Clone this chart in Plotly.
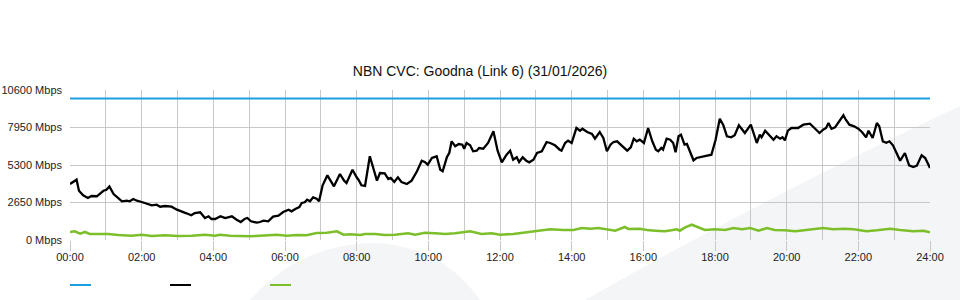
import plotly.graph_objects as go

# ---------------- data (minutes since 00:00, Mbps) ----------------
capacity_t = [0, 1440]
capacity_v = [10000, 10000]

inbound_t = [0, 11, 15, 22, 30, 36, 45, 50, 56, 61, 66, 73, 81, 87, 95, 100, 106, 112, 120, 129,
             137, 145, 151, 159, 170, 179, 187, 195, 203, 209, 218, 226, 232, 237, 243, 252, 260, 271, 279, 286,
             293, 297, 303, 313, 318, 324, 332, 340, 349, 357, 366, 371, 378, 384, 388, 393, 397, 402, 407, 413,
             417, 423, 431, 437, 442, 452, 459, 463, 473, 480, 483, 488, 494, 502, 508, 514, 519, 527, 533, 537,
             543, 549, 555, 564, 572, 581, 589, 594, 599, 606, 614, 620, 624, 631, 635, 639, 645, 651, 657, 660,
             664, 670, 675, 681, 685, 692, 700, 709, 716, 723, 731, 737, 742, 748, 752, 758, 764, 769, 776, 782,
             790, 798, 804, 812, 820, 823, 829, 834, 840, 848, 854, 858, 866, 874, 879, 887, 893, 899, 905, 910,
             916, 921, 928, 933, 939, 944, 949, 954, 961, 968, 975, 981, 985, 990, 993, 999, 1005, 1010, 1014, 1019,
             1023, 1029, 1033, 1038, 1044, 1049, 1058, 1066, 1074, 1081, 1088, 1094, 1100, 1107, 1113, 1120, 1126, 1130, 1140, 1146,
             1150, 1155, 1158, 1164, 1170, 1178, 1183, 1189, 1193, 1197, 1202, 1208, 1219, 1228, 1239, 1247, 1255, 1261, 1266, 1270,
             1275, 1281, 1288, 1295, 1299, 1305, 1313, 1320, 1326, 1333, 1337, 1344, 1351, 1355, 1361, 1367, 1372, 1378, 1384, 1390,
             1398, 1405, 1412, 1418, 1426, 1432, 1440]
inbound_v = [3960, 4260, 3480, 3160, 2970, 3110, 3090, 3250, 3480, 3550, 3790, 3250, 2920, 2735, 2777, 2735, 2897, 2777, 2685, 2544,
             2452, 2495, 2353, 2403, 2353, 2141, 2028, 1887, 1745, 1908, 1957, 1555, 1675, 1484, 1484, 1675, 1555, 1675, 1435, 1272,
             1505, 1555, 1321, 1223, 1272, 1364, 1321, 1647, 1717, 1979, 2141, 2028, 2212, 2332, 2615, 2664, 2848, 2735, 3017, 2920,
             2735, 3865, 4572, 4099, 3795, 4664, 4191, 4028, 4968, 4431, 4261, 3865, 3816, 5915, 4968, 4191, 4735, 4713, 4311, 4381,
             4099, 4431, 4099, 3957, 4191, 4855, 5604, 5512, 5321, 5795, 5915, 4968, 4855, 5844, 6148, 6975, 6622, 6784, 6735, 6452,
             6855, 6692, 6268, 6311, 6501, 6452, 6855, 7682, 6311, 5491, 6028, 6311, 5675, 5844, 5512, 5844, 5604, 5491, 5675, 6148,
             6268, 6925, 6855, 6692, 6381, 6311, 6855, 7017, 6855, 7915, 7724, 7865, 7632, 7491, 7159, 7632, 7208, 6268, 6735, 6925,
             6975, 6784, 6452, 6311, 6551, 7159, 6975, 7088, 6855, 7915, 6975, 6381, 6268, 6501, 6381, 7159, 7088, 6855, 6197, 7328,
             7441, 6735, 6784, 6268, 5632, 5795, 5865, 5915, 6028, 7088, 8572, 8106, 7328, 7258, 7399, 8106, 7795, 7561, 8148, 7441,
             6855, 7441, 7258, 7724, 7441, 7088, 7328, 7159, 7258, 7045, 7724, 7915, 7915, 8148, 8219, 7865, 7561, 7795, 7915, 8268,
             7865, 7964, 8388, 8812, 8501, 8148, 8035, 7865, 7632, 7258, 7724, 7208, 8268, 8035, 6975, 6876, 6975, 6692, 6148, 5604,
             6148, 5279, 5159, 5251, 5985, 5795, 5088]

outbound_t = [0, 8, 17, 25, 33, 47, 64, 81, 103, 120, 137, 159, 181, 204, 226, 243,
              251, 268, 285, 301, 318, 335, 346, 363, 380, 396, 413, 430, 447, 458, 469, 486,
              494, 511, 527, 544, 566, 578, 594, 611, 628, 645, 670, 689, 706, 720,
              742, 765, 787, 804, 826, 843, 857, 871, 885, 899, 913, 929, 935, 954, 966,
              980, 996, 1007, 1016, 1021, 1030, 1041, 1052, 1063, 1080, 1097, 1111, 1125, 1139, 1153, 1167, 1180, 1197, 1214,
              1222, 1239, 1261, 1278, 1295, 1312, 1334, 1351, 1373, 1390, 1412, 1429, 1440]
outbound_v = [565, 615, 445, 565, 424, 424, 424, 353, 304, 375, 283, 332, 283, 304, 375, 304,
              375, 304, 261, 261, 304, 332, 375, 304, 353, 332, 495, 516, 615, 375, 403, 353,
              424, 424, 353, 375, 473, 375, 516, 473, 424, 473, 615, 424, 473, 375,
              424, 544, 657, 756, 707, 707, 848, 799, 848, 756, 657, 919, 777, 799, 707,
              657, 615, 685, 756, 657, 897, 1081, 897, 707, 756, 707, 848, 756, 848, 657, 848, 707, 685, 615,
              657, 728, 848, 756, 799, 756, 615, 685, 799, 707, 615, 657, 544]

y_tickvals = [0, 2650, 5300, 7950, 10600]
y_ticktext = ["0 Mbps", "2650 Mbps", "5300 Mbps", "7950 Mbps", "10600 Mbps"]
x_tickvals = list(range(0, 1441, 120))
x_ticktext = ["00:00", "02:00", "04:00", "06:00", "08:00", "10:00", "12:00",
              "14:00", "16:00", "18:00", "20:00", "22:00", "24:00"]

BLUE = "#1c9fe0"
BLACK = "#000000"
GREEN = "#7dbf2b"
GRID = "#c8c8c8"
FONT = "Liberation Sans, Arial, sans-serif"

# ---------------- geometry helpers (pixel -> paper) ----------------
W, H = 960, 300
ML, MR, MT, MB = 70, 30, 90, 60
PW, PH = W - ML - MR, H - MT - MB


def px(x):
    return (x - ML) / PW


def py(y):
    return (H - MB - y) / PH


fig = go.Figure()
fig.add_trace(go.Scatter(x=capacity_t, y=capacity_v, mode="lines", name="Capacity",
                         line=dict(color=BLUE, width=2.2), showlegend=False))
fig.add_trace(go.Scatter(x=outbound_t, y=outbound_v, mode="lines", name="Outbound",
                         line=dict(color=GREEN, width=2.6), showlegend=False))
fig.add_trace(go.Scatter(x=inbound_t, y=inbound_v, mode="lines", name="Inbound",
                         line=dict(color=BLACK, width=2.3), showlegend=False))

shapes = []
# faint watermark shapes
wm = "#f4f5f7"
p1 = (f"M {px(250)},{py(300)} Q {px(300)},{py(244)} {px(372)},{py(243)} "
      f"Q {px(440)},{py(244)} {px(480)},{py(300)} Z")
shapes.append(dict(type="path", path=p1, xref="paper", yref="paper",
                   fillcolor=wm, line=dict(width=0), layer="below"))
p2 = (f"M {px(585)},{py(300)} Q {px(760)},{py(200)} {px(960)},{py(106)} "
      f"L {px(960)},{py(300)} Z")
shapes.append(dict(type="path", path=p2, xref="paper", yref="paper",
                   fillcolor=wm, line=dict(width=0), layer="below"))

# legend swatches (no text in original)
for x0, c in [(70, BLUE), (170, BLACK), (270, GREEN)]:
    shapes.append(dict(type="line", xref="paper", yref="paper",
                       x0=px(x0), x1=px(x0 + 21), y0=py(285), y1=py(285),
                       line=dict(color=c, width=2)))

fig.update_layout(
    width=W, height=H,
    margin=dict(l=ML, r=MR, t=MT, b=MB),
    paper_bgcolor="white",
    plot_bgcolor="rgba(0,0,0,0)",
    font=dict(family=FONT, size=11, color="#222222"),
    title=dict(text="NBN CVC: Goodna (Link 6) (31/01/2026)",
               x=0.5, xanchor="center", y=1 - 71 / H, yanchor="middle",
               font=dict(family=FONT, size=14, color="#111111")),
    showlegend=False,
    shapes=shapes,
    xaxis=dict(range=[0, 1440], tickvals=x_tickvals, ticktext=x_ticktext,
               showgrid=True, gridcolor=GRID, gridwidth=1,
               ticks="outside", ticklen=10, tickcolor=GRID, tickwidth=1,
               ticklabelstandoff=-3,
               minor=dict(dtick=60, tick0=0, showgrid=True, gridcolor=GRID, gridwidth=1, ticks=""),
               zeroline=False, showline=False, fixedrange=True, automargin=False,
               tickfont=dict(family=FONT, size=11, color="#222222")),
    yaxis=dict(range=[0, 10600], tickvals=y_tickvals, ticktext=y_ticktext,
               showgrid=True, gridcolor=GRID, gridwidth=1,
               ticks="", ticklabelstandoff=7,
               zeroline=False, showline=False, fixedrange=True, automargin=False,
               tickfont=dict(family=FONT, size=11, color="#222222")),
)

fig.write_html("out.html")
